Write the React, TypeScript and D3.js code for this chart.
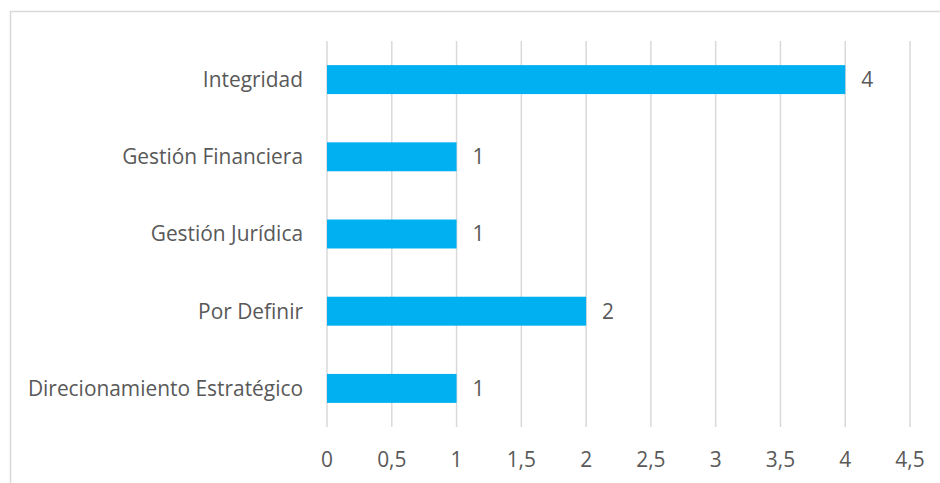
import React from "react";
import * as d3 from "d3";

const categories = ["Integridad", "Gestión Financiera", "Gestión Jurídica", "Por Definir", "Direcionamiento Estratégico"];
const values = [4, 1, 1, 2, 1];
const xTicks = [0, 0.5, 1, 1.5, 2, 2.5, 3, 3.5, 4, 4.5];

const W = 940, H = 483;
const left = 327, right = 910, top = 41, bottom = 427;
const FONT = "'Open Sans', sans-serif";
const TXT = "#595959";
const FS = 20.9;

export default function App() {
  const x = d3.scaleLinear().domain([0, 4.5]).range([left, right]);
  const y = d3.scaleBand().domain(categories).range([top, bottom]).paddingInner(0.625).paddingOuter(0.3125);
  const fmt = (v: number) => String(v).replace(".", ",");
  return (
    <svg width={W} height={H} style={{ position: "absolute", left: 0, top: 0 }}>
      <rect x={0} y={0} width={W} height={H} fill="#fff" />
      <rect x={10.5} y={11.5} width={W + 10} height={H + 10} fill="none" stroke="#d9d9d9" strokeWidth={1.5} />
      {xTicks.map((t) => (
        <line key={t} x1={x(t)} x2={x(t)} y1={top} y2={bottom} stroke="#d9d9d9" strokeWidth={1.5} />
      ))}
      {categories.map((c, i) => (
        <g key={c}>
          <rect x={x(0)} y={y(c)!} width={x(values[i]) - x(0)} height={y.bandwidth()} fill="#00B0F0" />
          <text x={303} y={y(c)! + y.bandwidth() / 2} dy="0.35em" textAnchor="end" fontFamily={FONT} fontSize={FS} fill={TXT}>{c}</text>
          <text x={x(values[i]) + 16} y={y(c)! + y.bandwidth() / 2} dy="0.35em" textAnchor="start" fontFamily={FONT} fontSize={FS} fill={TXT}>{values[i]}</text>
        </g>
      ))}
      {xTicks.map((t) => (
        <text key={t} x={x(t)} y={459.5} dy="0.35em" textAnchor="middle" fontFamily={FONT} fontSize={FS} fill={TXT}>{fmt(t)}</text>
      ))}
    </svg>
  );
}
